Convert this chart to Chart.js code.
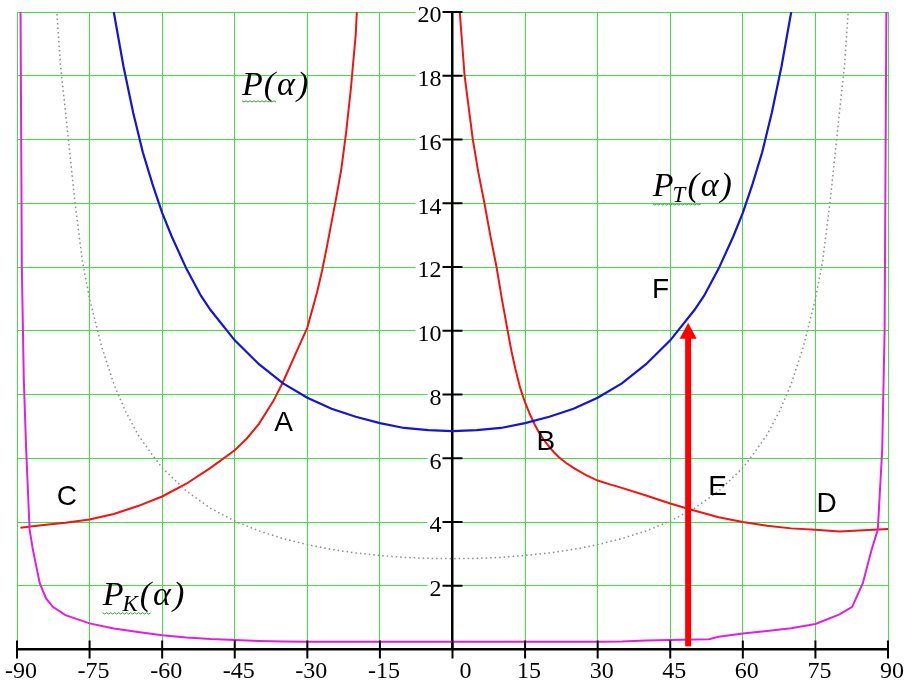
<!DOCTYPE html>
<html>
<head>
<meta charset="utf-8">
<title>P(α)</title>
<script src="https://cdn.jsdelivr.net/npm/chart.js@4/dist/chart.umd.min.js"></script>
<style>
  html, body { margin: 0; padding: 0; background: #fff; }
  #wrap { width: 909px; height: 697px; }
</style>
</head>
<body>
<div id="wrap"><canvas id="chart"></canvas></div>
<script>
// P(α), two branches
const pLeftAngle  = [-89.3, -85, -80, -75, -70, -65, -60, -55, -50, -45, -42.5, -40, -37, -35, -32.5, -30, -28, -27, -26, -25, -24, -23, -22, -21, -20, -19.5];
const pLeftValue  = [3.82, 3.9, 3.98, 4.08, 4.25, 4.5, 4.8, 5.2, 5.7, 6.25, 6.62, 7.08, 7.8, 8.4, 9.25, 10.1, 11.2, 11.85, 12.6, 13.4, 14.2, 15.05, 16.2, 17.6, 19.3, 20.8];
const pRightAngle = [1.1, 1.5, 2.5, 4.2, 5.3, 6.6, 7.8, 9.1, 10.2, 11.4, 12.2, 13, 14, 15, 16, 17, 18, 19, 20, 21, 22, 23.5, 25, 27.5, 30, 32.5, 35, 40, 45, 49, 55, 60, 65, 70, 75, 80, 85, 90];
const pRightValue = [21, 20, 18, 16, 15, 14, 13, 12, 11, 10, 9.35, 8.8, 8.2, 7.75, 7.38, 7.05, 6.78, 6.55, 6.36, 6.18, 6.03, 5.85, 5.7, 5.48, 5.3, 5.18, 5.07, 4.83, 4.58, 4.4, 4.15, 4.0, 3.88, 3.8, 3.76, 3.7, 3.74, 3.78];

// P_T(α)
const ptAngle = [-71, -70, -68, -66, -64, -62, -60, -58, -55, -52, -50, -45, -40, -35, -30, -25, -20, -15, -10, -5, 0, 5, 10, 15, 20, 25, 30, 35, 40, 45, 50, 52, 55, 58, 60, 62, 64, 66, 68, 70, 71];
const ptValue = [21.0, 20.0, 18.3, 16.85, 15.6, 14.6, 13.7, 12.95, 11.95, 11.1, 10.65, 9.7, 8.95, 8.35, 7.9, 7.55, 7.3, 7.1, 6.95, 6.88, 6.85, 6.88, 6.95, 7.1, 7.3, 7.55, 7.9, 8.35, 8.95, 9.7, 10.65, 11.1, 11.95, 12.95, 13.7, 14.6, 15.6, 16.85, 18.3, 20.0, 21.0];

// dotted grey curve
const grayAngle = [-82, -81, -80, -78, -76.5, -75, -72.5, -70, -67.5, -65, -62.5, -60, -55, -50, -45, -40, -35, -30, -25, -20, -15, -10, -5, 0, 5, 10, 15, 20, 25, 30, 35, 40, 45, 50, 55, 60, 62.5, 65, 67.5, 70, 72.5, 75, 76.5, 78, 80, 81, 82];
const grayValue = [20.5, 18.3, 16.9, 14.0, 12.2, 11.0, 9.5, 8.33, 7.45, 6.74, 6.2, 5.7, 4.97, 4.43, 4.03, 3.72, 3.48, 3.29, 3.14, 3.03, 2.95, 2.89, 2.86, 2.85, 2.86, 2.89, 2.95, 3.03, 3.14, 3.29, 3.48, 3.72, 4.03, 4.43, 4.97, 5.7, 6.2, 6.74, 7.45, 8.33, 9.5, 11.0, 12.2, 14.0, 16.9, 18.3, 20.5];

// P_K(α)
const pkAngle = [-89.3, -89.0, -88.6, -88.1, -87.4, -86.7, -85.3, -84, -82.6, -80, -75, -70, -65, -60, -55, -50, -45, -40, -35, -30, 0, 30, 35, 40, 45, 50, 53, 55, 60, 65, 70, 75, 80, 82.6, 84.8, 86.6, 87.9, 88.8, 89.3, 89.7];
const pkValue = [21, 12, 8.5, 6.26, 3.77, 3.12, 2.08, 1.6, 1.34, 1.08, 0.82, 0.66, 0.55, 0.45, 0.38, 0.33, 0.3, 0.27, 0.25, 0.245, 0.245, 0.245, 0.25, 0.28, 0.3, 0.31, 0.32, 0.4, 0.5, 0.58, 0.67, 0.8, 1.1, 1.34, 2.08, 3.12, 3.77, 6.26, 10, 21];

// red arrow at α = 48.7 up to P_T
const arrowAngle = 48.7;
const arrowFrom = 0.1;
const arrowTo = 10.25;

// point letters and curve names, in (α, value)
const letterText  = ['A', 'B', 'C', 'D', 'E', 'F'];
const letterAngle = [-34.9, 19.3, -79.7, 77.3, 54.8, 43.0];
const letterValue = [7.11, 6.51, 4.78, 4.56, 5.10, 11.28];

const nameSub   = ['', 'T', 'K'];
const nameAngle = [-43.5, 41.4, -72.3];
const nameValue = [17.4, 14.23, 1.4];

const toPts = (a, v) => a.map((x, i) => ({ x: x, y: v[i] }));

const GREEN = '#44dd44';
const TICK_FONT = '24px "Liberation Serif"';

const overlay = {
  id: 'overlay',
  // y labels sit left of the centred y axis, on a white patch over the grid
  beforeDatasetsDraw(chart) {
    const { ctx, scales: { x, y } } = chart;
    const x0 = x.getPixelForValue(0);
    ctx.save();
    ctx.font = TICK_FONT;
    ctx.textAlign = 'right';
    ctx.textBaseline = 'middle';
    y.ticks.forEach(t => {
      if (t.value === 0) return;
      const py = y.getPixelForValue(t.value);
      const label = String(t.value);
      const w = ctx.measureText(label).width;
      ctx.fillStyle = '#fff';
      ctx.fillRect(x0 - 11 - w - 2, py - 3, w + 2 + 11 - 1.5, 6);
      ctx.fillStyle = '#000';
      ctx.fillText(label, x0 - 11, py + 4);
    });
    ctx.restore();
  },
  afterDatasetsDraw(chart) {
    const { ctx, scales: { x, y } } = chart;
    const x0 = x.getPixelForValue(0), y0 = y.getPixelForValue(0);
    ctx.save();

    // tick marks crossing the axes
    ctx.strokeStyle = '#000';
    ctx.lineWidth = 2;
    ctx.beginPath();
    x.ticks.forEach(t => {
      const px = x.getPixelForValue(t.value);
      ctx.moveTo(px, y0 - 9); ctx.lineTo(px, y0 + 9);
    });
    y.ticks.forEach(t => {
      if (t.value === 0) return;
      const py = y.getPixelForValue(t.value);
      ctx.moveTo(x0 - 10, py); ctx.lineTo(x0 + 10, py);
    });
    ctx.stroke();

    // arrow
    const ax = x.getPixelForValue(arrowAngle);
    const ay1 = y.getPixelForValue(arrowFrom), ay2 = y.getPixelForValue(arrowTo);
    ctx.fillStyle = '#ff0000';
    ctx.fillRect(ax - 3, ay2 + 14, 6, ay1 - ay2 - 14);
    ctx.beginPath();
    ctx.moveTo(ax, ay2);
    ctx.lineTo(ax + 8.5, ay2 + 16);
    ctx.lineTo(ax - 8.5, ay2 + 16);
    ctx.closePath();
    ctx.fill();

    // letters
    ctx.fillStyle = '#000';
    ctx.font = '28px "Liberation Sans"';
    ctx.textAlign = 'center';
    ctx.textBaseline = 'middle';
    letterText.forEach((t, i) => {
      ctx.fillText(t, x.getPixelForValue(letterAngle[i]), y.getPixelForValue(letterValue[i]));
    });

    // curve names  P(α), P_T(α), P_K(α)
    ctx.textAlign = 'left';
    ctx.textBaseline = 'alphabetic';
    nameSub.forEach((sub, i) => {
      let cx = x.getPixelForValue(nameAngle[i]);
      const by = y.getPixelForValue(nameValue[i]);
      const startX = cx;
      ctx.font = 'italic 34px "Liberation Serif"';
      ctx.fillText('P', cx, by);
      cx += ctx.measureText('P').width + 1;
      if (sub) {
        ctx.font = 'italic 23px "Liberation Serif"';
        ctx.fillText(sub, cx - 2, by + 6);
        cx += ctx.measureText(sub).width;
      }
      ctx.font = 'italic 34px "Liberation Serif"';
      for (const ch of ['(', 'α', ')']) {
        ctx.fillText(ch, cx, by);
        cx += ctx.measureText(ch).width + 2;
      }
      // wavy green underline
      const endX = startX + (sub ? 48 : 35);
      ctx.strokeStyle = '#3a9a3a';
      ctx.lineWidth = 1;
      ctx.beginPath();
      let k = 0;
      for (let px = startX; px <= endX; px += 2, k++) {
        const py = by + 6 + (sub ? 2 : 0) + (k % 2 ? 1.2 : -0.2);
        if (k === 0) ctx.moveTo(px, py); else ctx.lineTo(px, py);
      }
      ctx.stroke();
    });

    ctx.restore();
  }
};

new Chart(document.getElementById('chart'), {
  type: 'scatter',
  data: {
    datasets: [
      { data: toPts(grayAngle, grayValue), borderColor: '#8a8a8a', borderWidth: 1.5, borderDash: [1.5, 3] },
      { data: toPts(pkAngle, pkValue), borderColor: '#e020e0', borderWidth: 2 },
      { data: toPts(ptAngle, ptValue), borderColor: '#1414d2', borderWidth: 2.2 },
      { data: toPts(pLeftAngle, pLeftValue), borderColor: '#f01414', borderWidth: 2 },
      { data: toPts(pRightAngle, pRightValue), borderColor: '#f01414', borderWidth: 2 }
    ].map(d => ({ ...d, showLine: true, pointRadius: 0, tension: 0, fill: false }))
  },
  options: {
    responsive: true,
    maintainAspectRatio: false,
    animation: false,
    devicePixelRatio: 1,
    layout: { padding: { left: 17, right: 21, top: 12, bottom: 0 } },
    plugins: { legend: { display: false }, tooltip: { enabled: false } },
    scales: {
      x: {
        type: 'linear',
        position: 'bottom',
        min: -90, max: 90,
        afterFit: s => { s.height = 47.5; s.paddingLeft = 0; s.paddingRight = 0; },
        ticks: {
          stepSize: 15, autoSkip: false, maxRotation: 0,
          padding: 8, labelOffset: 4, color: '#000',
          font: { family: '"Liberation Serif"', size: 24 },
          callback: v => v === 0 ? '   0' : String(v)
        },
        grid: { color: GREEN, lineWidth: 1, drawTicks: false },
        border: { color: '#000', width: 2.5 }
      },
      y: {
        type: 'linear',
        position: { x: 0 },
        min: 0, max: 20,
        afterFit: s => { s.paddingTop = 0; s.paddingBottom = 0; },
        ticks: { stepSize: 2, display: false },
        grid: { color: GREEN, lineWidth: 1, drawTicks: false },
        border: { color: '#000', width: 2.5 }
      }
    }
  },
  plugins: [overlay]
});
</script>
</body>
</html>
